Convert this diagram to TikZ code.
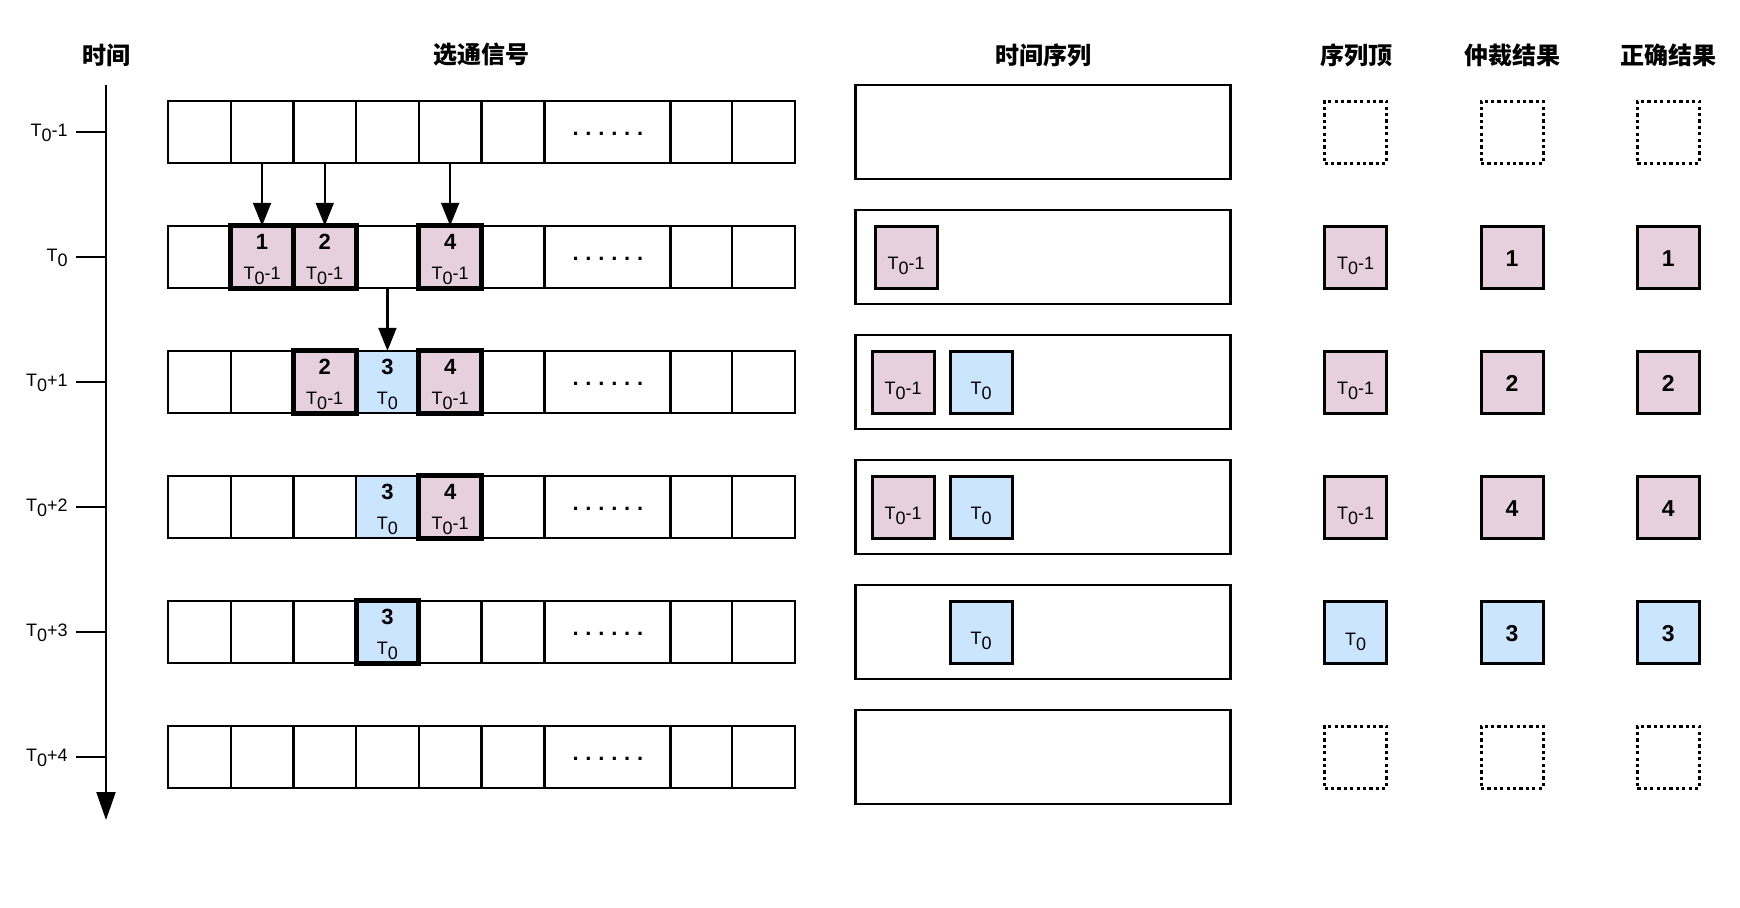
\documentclass[tikz,border=0pt]{standalone}
\usepackage{fontspec}
\setmainfont{Liberation Sans}
\newfontfamily\cjk{Noto Sans CJK SC}
\usetikzlibrary{arrows.meta}
\definecolor{pinkc}{HTML}{E6D0DE}
\definecolor{bluec}{HTML}{CCE5FF}
\newcommand\tz[1]{T\raisebox{-2.8pt}{0}#1}
\newcommand\mydots{.\kern3.4pt.\kern3.4pt.\kern3.4pt.\kern3.4pt.\kern3.4pt.}
\tikzset{
  cell/.style={draw, line width=1.1pt, minimum width=31.35pt, minimum height=31.25pt, inner sep=0pt, outer sep=0pt},
  hot/.style={cell, line width=2.4pt},
  pinkfill/.style={fill=pinkc},
  bluefill/.style={fill=bluec},
  seqbox/.style={draw, line width=1.4pt, minimum width=187.5pt, minimum height=47pt, inner sep=0pt},
  sbox/.style={draw, line width=1.5pt, minimum width=31pt, minimum height=31pt, inner sep=0pt},
  dotbox/.style={draw, line width=1.5pt, dash pattern=on 1.6pt off 1.6pt, minimum width=31pt, minimum height=31pt, inner sep=0pt},
  numtxt/.style={anchor=base, inner sep=0pt, font=\fontsize{11}{13}\selectfont\bfseries},
  bignum/.style={anchor=base, inner sep=0pt, font=\fontsize{11.5}{13}\selectfont\bfseries},
  lbltxt/.style={anchor=base, inner sep=0pt, font=\fontsize{9}{11}\selectfont},
  tlbl/.style={anchor=base east, inner sep=0pt, font=\fontsize{9}{11}\selectfont},
  dotstxt/.style={anchor=base, inner sep=0pt, font=\fontsize{11}{13}\selectfont\bfseries},
  ttl/.style={inner sep=0pt, font=\cjk\bfseries\fontsize{12}{14}\selectfont},
  arr/.style={line width=1.1pt, -{Triangle[width=9pt,length=11.5pt]}},
  axisline/.style={line width=1.1pt},
  mainaxis/.style={line width=1.1pt, -{Triangle[width=9.5pt,length=14pt]}}
}
\newcommand\hcell[6]{%
  \pgfmathsetmacro\hx{199.35+62.7*#2}%
  \pgfmathsetmacro\hy{132+125*(#3-1)}%
  \node[#4] (#1) at (\hx,\hy) {};
  \node[numtxt] (#1n) at (\hx,\hy-8) {#5};
  \node[lbltxt] (#1l) at (\hx,\hy+22) {#6};
}
\begin{document}
\begin{tikzpicture}[x=0.5pt,y=-0.5pt]
\useasboundingbox (0,0) rectangle (1740,907);

% titles
\node[ttl] (t1) at (106,55) {时间};
\node[ttl] (t2) at (481,55) {选通信号};
\node[ttl] (t3) at (1043,55) {时间序列};
\node[ttl] (t4) at (1356,55) {序列顶};
\node[ttl] (t5) at (1512,55) {仲裁结果};
\node[ttl] (t6) at (1668,55) {正确结果};

% time axis
\coordinate (axTop) at (106,85);
\coordinate (axBot) at (106,820);
\draw[mainaxis] (axTop) -- (axBot);

% rows
\foreach \r in {1,...,6}{
  \pgfmathsetmacro\cy{132+125*(\r-1)}
  \foreach \i in {0,...,5}{
    \pgfmathsetmacro\cx{199.35+62.7*\i}
    \node[cell] (c\r-\i) at (\cx,\cy) {};
  }
  \node[cell, minimum width=62.7pt] (c\r-6) at (607.9,\cy) {};
  \node[cell] (c\r-8) at (701.0,\cy) {};
  \node[cell] (c\r-9) at (763.7,\cy) {};
  \node[dotstxt] (e\r) at (607.9,\cy+3) {\mydots};
  \node[seqbox] (s\r) at (1043.3,\cy) {};
  \coordinate (tk\r) at (76,\cy);
  \coordinate (ta\r) at (106,\cy);
  \draw[axisline] (tk\r) -- (ta\r);
}

% time labels
\node[tlbl] (tl1) at (68,136) {\tz{-1}};
\node[tlbl] (tl2) at (68,261) {\tz{}};
\node[tlbl] (tl3) at (68,386) {\tz{+1}};
\node[tlbl] (tl4) at (68,511) {\tz{+2}};
\node[tlbl] (tl5) at (68,636) {\tz{+3}};
\node[tlbl] (tl6) at (68,761) {\tz{+4}};

% highlighted cells
\hcell{h2a}{1}{2}{hot,pinkfill}{1}{\tz{-1}}
\hcell{h2b}{2}{2}{hot,pinkfill}{2}{\tz{-1}}
\hcell{h2c}{4}{2}{hot,pinkfill}{4}{\tz{-1}}
\hcell{h3b}{3}{3}{cell,bluefill}{3}{\tz{}}
\hcell{h3a}{2}{3}{hot,pinkfill}{2}{\tz{-1}}
\hcell{h3c}{4}{3}{hot,pinkfill}{4}{\tz{-1}}
\hcell{h4a}{3}{4}{cell,bluefill}{3}{\tz{}}
\hcell{h4b}{4}{4}{hot,pinkfill}{4}{\tz{-1}}
\hcell{h5a}{3}{5}{hot,bluefill}{3}{\tz{}}

% arrows
\draw[arr] (c1-1.south) -- (h2a.north);
\draw[arr] (c1-2.south) -- (h2b.north);
\draw[arr] (c1-4.south) -- (h2c.north);
\draw[arr] (c2-3.south) -- (h3b.north);

% time sequence contents
\node[sbox,pinkfill] (q2a) at (906,257) {};
\node[lbltxt] (q2at) at (906,269) {\tz{-1}};
\node[sbox,pinkfill] (q3a) at (903,382) {};
\node[lbltxt] (q3at) at (903,394) {\tz{-1}};
\node[sbox,bluefill] (q3b) at (981,382) {};
\node[lbltxt] (q3bt) at (981,394) {\tz{}};
\node[sbox,pinkfill] (q4a) at (903,507) {};
\node[lbltxt] (q4at) at (903,519) {\tz{-1}};
\node[sbox,bluefill] (q4b) at (981,507) {};
\node[lbltxt] (q4bt) at (981,519) {\tz{}};
\node[sbox,bluefill] (q5b) at (981,632) {};
\node[lbltxt] (q5bt) at (981,644) {\tz{}};

% right columns: empty rows
\node[dotbox] (a1) at (1355.5,132) {};
\node[dotbox] (b1) at (1512,132) {};
\node[dotbox] (d1) at (1668.3,132) {};
\node[dotbox] (a6) at (1355.5,757) {};
\node[dotbox] (b6) at (1512,757) {};
\node[dotbox] (d6) at (1668.3,757) {};

% sequence top
\node[sbox,pinkfill] (a2) at (1355.5,257) {};
\node[lbltxt] (a2t) at (1355.5,269) {\tz{-1}};
\node[sbox,pinkfill] (a3) at (1355.5,382) {};
\node[lbltxt] (a3t) at (1355.5,394) {\tz{-1}};
\node[sbox,pinkfill] (a4) at (1355.5,507) {};
\node[lbltxt] (a4t) at (1355.5,519) {\tz{-1}};
\node[sbox,bluefill] (a5) at (1355.5,632) {};
\node[lbltxt] (a5t) at (1355.5,645) {\tz{}};

% arbitration results
\node[sbox,pinkfill] (b2) at (1512,257) {};
\node[bignum] (b2t) at (1512,266) {1};
\node[sbox,pinkfill] (b3) at (1512,382) {};
\node[bignum] (b3t) at (1512,391) {2};
\node[sbox,pinkfill] (b4) at (1512,507) {};
\node[bignum] (b4t) at (1512,516) {4};
\node[sbox,bluefill] (b5) at (1512,632) {};
\node[bignum] (b5t) at (1512,641) {3};

% correct results
\node[sbox,pinkfill] (d2) at (1668.3,257) {};
\node[bignum] (d2t) at (1668.3,266) {1};
\node[sbox,pinkfill] (d3) at (1668.3,382) {};
\node[bignum] (d3t) at (1668.3,391) {2};
\node[sbox,pinkfill] (d4) at (1668.3,507) {};
\node[bignum] (d4t) at (1668.3,516) {4};
\node[sbox,bluefill] (d5) at (1668.3,632) {};
\node[bignum] (d5t) at (1668.3,641) {3};
\end{tikzpicture}
\end{document}
